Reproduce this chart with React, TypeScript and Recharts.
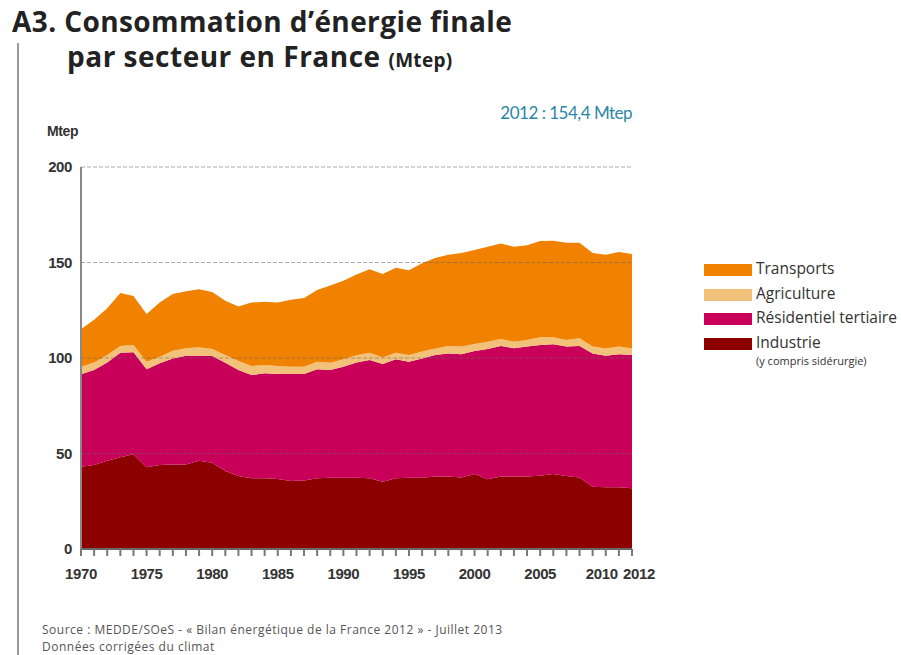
import React from "react";
import { AreaChart, Area, XAxis, YAxis, ReferenceLine } from "recharts";

const years = [1970, 1971, 1972, 1973, 1974, 1975, 1976, 1977, 1978, 1979, 1980, 1981, 1982, 1983, 1984, 1985, 1986, 1987, 1988, 1989, 1990, 1991, 1992, 1993, 1994, 1995, 1996, 1997, 1998, 1999, 2000, 2001, 2002, 2003, 2004, 2005, 2006, 2007, 2008, 2009, 2010, 2011, 2012];

const industrie = [43.1, 44, 46.2, 48, 49.6, 42.8, 44, 44.3, 44.3, 46.2, 45.2, 40.8, 38.2, 37, 37, 36.6, 35.6, 35.8, 37, 37.3, 37.3, 37.3, 37, 35.2, 37, 37.3, 37.3, 37.9, 37.9, 37.5, 39.3, 36.5, 37.9, 37.9, 37.9, 38.4, 39.3, 38.2, 37.5, 32.6, 32.3, 32.3, 31.8];

const residentiel = [48.4, 49.7, 51.5, 54.8, 53.4, 51.3, 53.2, 55.5, 56.9, 55, 55.8, 56.7, 55.5, 54.1, 55, 55, 56, 55.8, 57.1, 56.4, 58.1, 60.4, 62, 61.7, 62.3, 60.7, 62.5, 63.7, 64.5, 64.5, 64.4, 68.2, 68.4, 67.2, 68.1, 68.4, 67.9, 67.8, 68.8, 69.8, 68.9, 69.7, 69.8];

const agriculture = [3.9, 3.9, 3.9, 3.5, 3.8, 4, 3.5, 4, 3.9, 4.4, 3.7, 4.1, 4.7, 4.7, 4.3, 4.2, 3.8, 3.8, 3.9, 3.8, 3.9, 3.8, 3.8, 3.4, 3.5, 3.6, 3.6, 3.4, 3.9, 4, 3.6, 3.8, 3.7, 3.4, 3.4, 4, 3.6, 3.4, 4, 3.6, 3.8, 4, 3.4];

const transports = [19.6, 22.4, 24.4, 27.7, 25.7, 24.9, 28.3, 29.7, 29.9, 30.4, 29.8, 28.4, 28.6, 33.2, 33.2, 33.2, 35.1, 36, 37.6, 40.5, 41.2, 42.2, 43.7, 43.7, 44.5, 44.4, 46.2, 47.3, 47.7, 49, 49.2, 49.8, 50, 49.8, 49.6, 50.5, 50.6, 51, 50.1, 49, 49, 49.5, 49.4];

const labeledYears = [1970, 1975, 1980, 1985, 1990, 1995, 2000, 2005, 2010, 2012];
const yTicks = [0, 50, 100, 150, 200];
const gridValues = [50, 100, 150, 200];

const series = [
  { key: "industrie", name: "Industrie", note: "(y compris sidérurgie)", color: "#8C0000" },
  { key: "residentiel", name: "Résidentiel tertiaire", note: "", color: "#C8005A" },
  { key: "agriculture", name: "Agriculture", note: "", color: "#F2C27A" },
  { key: "transports", name: "Transports", note: "", color: "#F08200" },
];

const data = years.map((y, i) => ({
  year: y,
  industrie: industrie[i],
  residentiel: residentiel[i],
  agriculture: agriculture[i],
  transports: transports[i],
}));

const narrow = "'Liberation Sans Narrow', 'Arial Narrow', 'Liberation Sans', Arial, sans-serif";
const sans = "'Open Sans', Lato, sans-serif";

const XTick = (props: any) => {
  const { x, y, payload } = props;
  const v = payload.value;
  if (!labeledYears.includes(v)) return null;
  const dx = v === 2012 ? 7 : v === 2010 ? -4 : 0;
  return (
    <text x={x + dx} y={y} dy={13} textAnchor="middle" fill="#333" fontSize={15} fontFamily={narrow} fontWeight={700} letterSpacing={-0.4}>
      {v}
    </text>
  );
};

export default function App() {
  return (
    <div style={{ position: "absolute", left: 0, top: 0, width: 901, height: 655, background: "#fff", overflow: "hidden" }}>
      <div style={{ position: "absolute", left: 17, top: 43, width: 2, height: 612, background: "#999" }} />
      <div style={{ position: "absolute", left: 12, top: 2, fontFamily: sans, fontWeight: 700, fontSize: 28, color: "#222", whiteSpace: "nowrap", letterSpacing: 0.4, lineHeight: "38px" }}>
        A3. Consommation d’énergie finale
      </div>
      <div style={{ position: "absolute", left: 67, top: 37, fontFamily: sans, fontWeight: 700, fontSize: 28, color: "#222", whiteSpace: "nowrap", letterSpacing: 0.5, lineHeight: "38px" }}>
        par secteur en France <span style={{ fontSize: 19, letterSpacing: 0.3 }}>(Mtep)</span>
      </div>
      <div style={{ position: "absolute", left: 432, width: 200, textAlign: "right", top: 102, fontFamily: "Lato, sans-serif", fontSize: 17, color: "#2A86A6", whiteSpace: "nowrap", letterSpacing: -0.5 }}>
        2012 : 154,4 Mtep
      </div>
      <div style={{ position: "absolute", left: 47, top: 123, fontFamily: narrow, fontSize: 14, fontWeight: 700, color: "#333", letterSpacing: -0.4 }}>Mtep</div>
      <div style={{ position: "absolute", left: 42, top: 622, fontFamily: sans, fontSize: 12, color: "#555", lineHeight: "16px", whiteSpace: "nowrap", letterSpacing: 0.5 }}>
        Source : MEDDE/SOeS - « Bilan énergétique de la France 2012 » - Juillet 2013
      </div>
      <div style={{ position: "absolute", left: 42, top: 639, fontFamily: sans, fontSize: 12, color: "#555", lineHeight: "16px", whiteSpace: "nowrap", letterSpacing: 0.5 }}>
        Données corrigées du climat
      </div>
      <div style={{ position: "absolute", left: 704, top: 259, width: 200, fontFamily: sans, color: "#333" }}>
        {[...series].reverse().map((s) => (
          <div key={s.key} style={{ position: "relative", height: 24.5 }}>
            <div style={{ position: "absolute", left: 0, top: 5, width: 48, height: 12, background: s.color }} />
            <div style={{ position: "absolute", left: 52, top: 0, fontSize: 15.5, whiteSpace: "nowrap", lineHeight: "18px" }}>{s.name}</div>
            {s.note ? (
              <div style={{ position: "absolute", left: 52, top: 21, fontSize: 11, whiteSpace: "nowrap", lineHeight: "13px" }}>{s.note}</div>
            ) : null}
          </div>
        ))}
      </div>
      <AreaChart
        width={901}
        height={655}
        data={data}
        margin={{ top: 167, right: 269, bottom: 76, left: 0 }}
        style={{ position: "absolute", left: 0, top: 0 }}
      >
        <XAxis
          dataKey="year"
          type="number"
          domain={[1970, 2012]}
          ticks={years}
          interval={0}
          height={30}
          tickSize={7}
          tickMargin={10}
          tick={<XTick />}
          axisLine={{ stroke: "#666", strokeWidth: 2 }}
          tickLine={{ stroke: "#777", strokeWidth: 2 }}
        />
        <YAxis
          type="number"
          domain={[0, 200]}
          ticks={yTicks}
          width={81}
          tickSize={0}
          tickMargin={9}
          tick={{ fill: "#333", fontSize: 15, fontFamily: narrow, fontWeight: 700, letterSpacing: -0.4 }}
          axisLine={{ stroke: "#888", strokeWidth: 2 }}
          tickLine={false}
        />
        {series.map((s) => (
          <Area
            key={s.key}
            type="linear"
            dataKey={s.key}
            name={s.name}
            stackId="a"
            stroke="none"
            fill={s.color}
            fillOpacity={1}
            isAnimationActive={false}
          />
        ))}
        {gridValues.map((g) => (
          <ReferenceLine key={g} y={g} stroke="#666" strokeOpacity={0.55} strokeDasharray="4 2" strokeWidth={1} />
        ))}
      </AreaChart>
    </div>
  );
}
